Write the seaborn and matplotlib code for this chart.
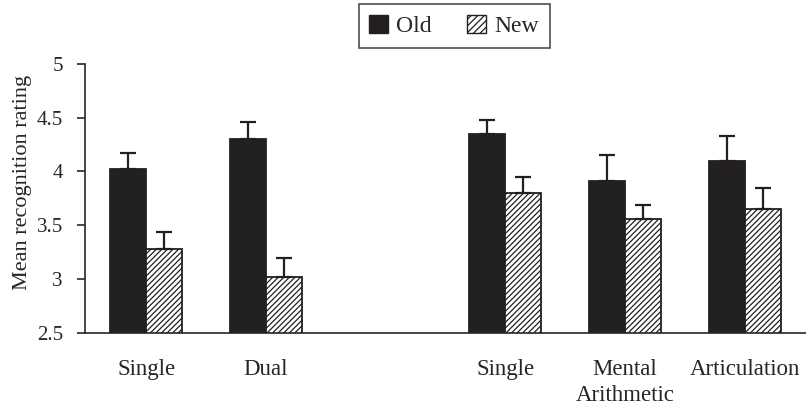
import matplotlib
matplotlib.use("Agg")
import matplotlib.pyplot as plt
import seaborn as sns
import pandas as pd
from matplotlib.patches import Patch

# ---- data ----
conditions = ["Single", "Dual", "Single2", "Mental", "Articulation"]
tick_labels = ["Single", "Dual", "Single", "Mental\nArithmetic", "Articulation"]
old_means = [4.02, 4.30, 4.35, 3.91, 4.10]
new_means = [3.28, 3.02, 3.80, 3.56, 3.65]
old_err = [0.15, 0.16, 0.13, 0.24, 0.23]
new_err = [0.16, 0.18, 0.15, 0.13, 0.20]
series = ["Old", "New"]

df = pd.DataFrame({
    "cond": conditions * 2,
    "series": [series[0]] * len(conditions) + [series[1]] * len(conditions),
    "value": old_means + new_means,
})

sns.set_style("ticks")
plt.rcParams["font.family"] = ["Liberation Serif", "DejaVu Serif"]
plt.rcParams["hatch.linewidth"] = 0.9

fig = plt.figure(figsize=(8.06, 4.11), dpi=100)
ax = fig.add_axes([0.1055, 0.19, 0.8945, 0.655])

order = ["Single", "Dual", "gap", "Single2", "Mental", "Articulation"]
sns.barplot(data=df, x="cond", y="value", hue="series", order=order,
            hue_order=series, palette={"Old": "#231f20", "New": "white"},
            width=0.6, gap=0, edgecolor="#231f20", linewidth=1.3,
            errorbar=None, legend=False, ax=ax)

for bar in ax.containers[1]:
    bar.set_hatch("//////")

for cont, errs in zip(ax.containers, [old_err, new_err]):
    for bar, e in zip(list(cont), errs):
        cx = bar.get_x() + bar.get_width() / 2
        h = bar.get_height()
        ax.errorbar(cx, h, yerr=[[0], [e]], fmt="none", ecolor="#231f20",
                    elinewidth=1.6, capsize=6, capthick=1.6, zorder=1)

ax.set_ylim(2.5, 5)
ax.set_yticks([2.5, 3, 3.5, 4, 4.5, 5])
ax.set_yticklabels(["2.5", "3", "3.5", "4", "4.5", "5"])
ax.set_xlim(-0.51, 5.51)
pos = [0, 1, 3, 4, 5]
ax.set_xticks(pos)
ax.set_xticklabels(tick_labels, fontsize=16.5, linespacing=1.3)
ax.tick_params(axis="x", length=0, pad=19)
ax.tick_params(axis="y", labelsize=15, length=6, width=1.2, direction="out", pad=10)
ax.set_xlabel("")
ax.set_ylabel("Mean recognition rating", fontsize=16)
ax.yaxis.set_label_coords(-0.073, 0.56)
sns.despine(ax=ax)
ax.spines["left"].set_linewidth(1.2)
ax.spines["bottom"].set_linewidth(1.2)

handles = [Patch(facecolor="#231f20", edgecolor="#231f20", label="Old"),
           Patch(facecolor="white", edgecolor="#231f20", hatch="/////", label="New")]
leg = fig.legend(handles=handles, loc="upper center", bbox_to_anchor=(0.5635, 0.99),
                 borderaxespad=0, ncol=2, fontsize=17, frameon=True, fancybox=False,
                 edgecolor="#231f20", handlelength=0.8, handleheight=0.8,
                 handletextpad=0.35, columnspacing=1.5, borderpad=0.45)
leg.get_frame().set_linewidth(1.2)

fig.savefig("out.png", dpi=100)
